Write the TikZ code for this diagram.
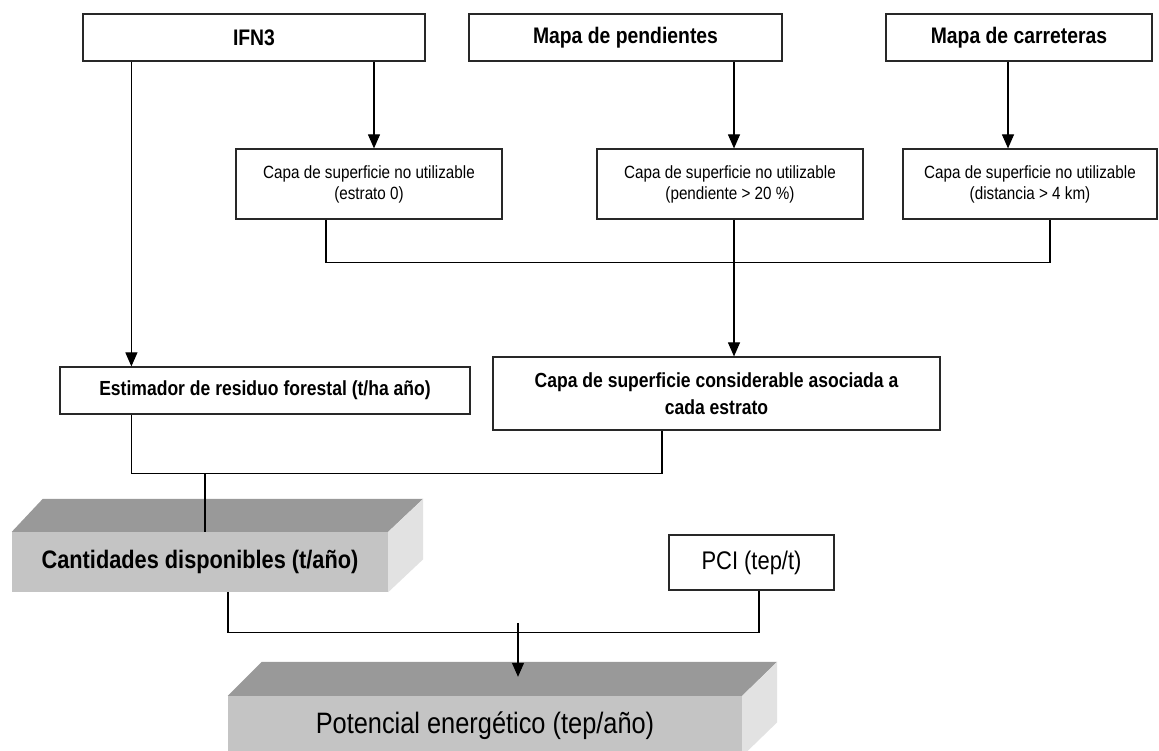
\documentclass[tikz,border=0pt]{standalone}
\usepackage{fontspec}
\setmainfont{Liberation Sans}
\newfontfamily\nar[FakeStretch=0.86]{Liberation Sans}
\usetikzlibrary{arrows.meta,calc}
\definecolor{topg}{RGB}{153,153,153}
\definecolor{frontg}{RGB}{196,196,196}
\definecolor{sideg}{RGB}{226,226,226}
\definecolor{edgeg}{RGB}{40,40,40}
\tikzset{
 box/.style={draw=edgeg, line width=1.2pt, fill=white, inner sep=0pt, align=center},
 bigbox/.style={box, font=\nar\bfseries\fontsize{22.5}{26}\selectfont, minimum height=47pt},
 smallbox/.style={box, font=\nar\fontsize{17.7}{21}\selectfont, minimum height=70pt},
 midbox/.style={box, font=\nar\bfseries\fontsize{20.4}{27}\selectfont},
 conn/.style={draw=black, line width=1.1pt},
 arr/.style={conn, -{Triangle[width=12pt,length=14pt]}},
 frontface/.style={fill=frontg, inner sep=0pt, draw=none, align=center},
}
\begin{document}
\begin{tikzpicture}[x=1pt,y=-1pt]
\useasboundingbox (0,0) rectangle (1159,751);
\fill[white] (0,0) rectangle (1159,751);

% top row
\node[bigbox, minimum width=342pt] (ifn) at (254,37.5) {IFN3};
\node[bigbox, minimum width=313pt] (mpen) at (625.5,37.5) {Mapa de pendientes};
\node[bigbox, minimum width=266pt] (mcar) at (1019,37.5) {Mapa de carreteras};

% second row
\node[smallbox, minimum width=266pt] (estr) at (369,184) {Capa de superficie no utilizable\\(estrato 0)};
\node[smallbox, minimum width=266pt] (pend) at (730,184) {Capa de superficie no utilizable\\(pendiente > 20 \%)};
\node[smallbox, minimum width=254pt] (dist) at (1030,184) {Capa de superficie no utilizable\\(distancia > 4 km)};

% third row
\node[midbox, minimum width=410pt, minimum height=47pt] (estim) at (265,390.5) {Estimador de residuo forestal (t/ha año)};
\node[midbox, minimum width=447pt, minimum height=73pt] (cons) at (716.5,393.5) {Capa de superficie considerable asociada a\\cada estrato};

% PCI
\node[box, font=\nar\fontsize{25.5}{30}\selectfont, minimum width=165pt, minimum height=55pt] (pci) at (751.5,562.5) {PCI (tep/t)};

% Cantidades 3D box
\node[frontface, minimum width=376pt, minimum height=60pt, font=\nar\bfseries\fontsize{25.3}{30}\selectfont] (cant) at (200,562) {Cantidades disponibles (t/año)};
\fill[topg] (cant.north west) -- (cant.north east) -- ++(35,-33) -- ($(cant.north west)+(31,-33)$) -- cycle;
\fill[sideg] (cant.north east) -- ++(35,-33) -- ($(cant.south east)+(35,-33)$) -- (cant.south east) -- cycle;

% Potencial 3D box
\node[frontface, minimum width=514pt, minimum height=60pt, font=\nar\fontsize{29.5}{34}\selectfont] (pot) at (485,726) {Potencial energético (tep/año)};
\fill[topg] (pot.north west) -- (pot.north east) -- ++(35,-34) -- ($(pot.north west)+(34,-34)$) -- cycle;
\fill[sideg] (pot.north east) -- ++(35,-34) -- ($(pot.south east)+(35,-34)$) -- (pot.south east) -- cycle;

% connectors top -> second row
\coordinate (a1) at ([xshift=72pt]estim.north west);
\draw[arr] (ifn.south -| a1) -- (a1);
\coordinate (a2) at ([xshift=5pt]estr.north);
\draw[arr] (ifn.south -| a2) -- (a2);
\coordinate (a3) at ([xshift=4pt]pend.north);
\draw[arr] (mpen.south -| a3) -- (a3);
\coordinate (a4) at ([xshift=-22pt]dist.north);
\draw[arr] (mcar.south -| a4) -- (a4);

% second row joins
\coordinate (b1) at ([xshift=-43pt]estr.south);
\coordinate (b2) at ([xshift=20pt]dist.south);
\draw[conn] (b1) -- ++(0,43) -| (b2);
\coordinate (b3) at ([xshift=4pt]pend.south);
\draw[arr] (b3) -- (b3 |- cons.north);

% third row joins
\coordinate (c1) at (estim.south -| a1);
\coordinate (c2) at ([xshift=-54.5pt]cons.south);
\draw[conn] (c1) -- ++(0,59) -| (c2);
\coordinate (c3) at ([xshift=5pt]cant.north);
\coordinate (c4) at ($(c1)+(0,59)$);
\draw[conn] (c4 -| c3) -- (c3);

% bottom joins
\coordinate (d1) at ([xshift=28pt]cant.south);
\coordinate (d2) at ([xshift=7.5pt]pci.south);
\draw[conn] (d1) -- ++(0,40) -| (d2);
\coordinate (d3) at ([xshift=33pt]pot.north);
\draw[arr] ($(d3)+(0,-73)$) -- ($(d3)+(0,-19)$);
\end{tikzpicture}
\end{document}
